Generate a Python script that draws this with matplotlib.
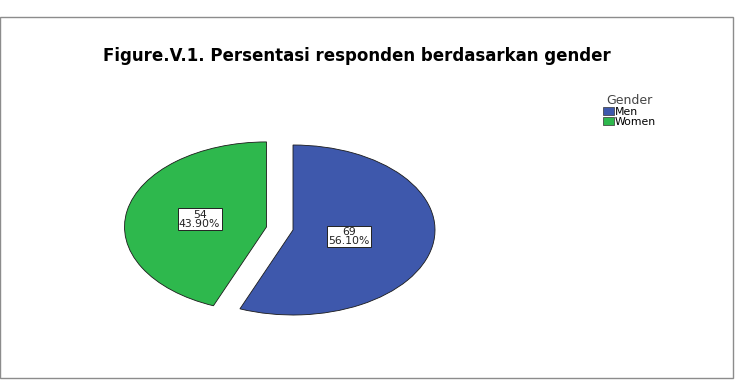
import matplotlib
matplotlib.use("Agg")
import matplotlib.pyplot as plt
from matplotlib.patches import Rectangle, Patch
import numpy as np

categories = ["Men", "Women"]
counts = [69, 54]
percents = [56.10, 43.90]
colors = ["#3E58AC", "#2EB84D"]
explode = [0.0, 0.19]
title = "Figure.V.1. Persentasi responden berdasarkan gender"

plt.rcParams['font.family'] = ['DejaVu Sans']

fig = plt.figure(figsize=(7.35, 3.92), dpi=100)

# outer frame
fig.patches.append(Rectangle((0.0, (392 - 378) / 392), 733 / 735, (378 - 17) / 392,
                             transform=fig.transFigure, fill=False,
                             edgecolor="#8c8c8c", linewidth=1.0))

fig.text(357 / 735, 1 - 56 / 392, title, ha="center", va="center",
         fontsize=12, fontweight="bold", color="#000000")

ax = fig.add_axes([151 / 735, (392 - 315) / 392, 284 / 735, 170 / 392])
ax.axis("off")

labels_txt = [f"{c}\n{p:.2f}%" for c, p in zip(counts, percents)]
wedges, _ = ax.pie(counts, colors=colors, explode=explode, startangle=90,
                   counterclock=False, radius=1.0, frame=False,
                   wedgeprops=dict(edgecolor="#1a1a1a", linewidth=0.6))
ax.set_xlim(-1, 1)
ax.set_ylim(-1, 1)
ax.set_aspect("auto")
for w, txt, d in zip(wedges, labels_txt, [0.40, 0.48]):
    w.set_clip_on(False)
    ang = np.deg2rad((w.theta1 + w.theta2) / 2)
    cx, cy = w.center
    ax.text(cx + d * np.cos(ang), cy + d * np.sin(ang), txt, ha="center", va="center",
            fontsize=7.8, linespacing=0.85, color="#222222",
            bbox=dict(boxstyle="square,pad=0.12", facecolor="white",
                      edgecolor="#222222", linewidth=0.7))

handles = [Patch(facecolor=c, edgecolor="#333333", linewidth=0.5) for c in colors]
leg = fig.legend(handles, categories, title="Gender", loc="upper left",
                 bbox_to_anchor=(595 / 735, 1 - 86 / 392), frameon=False,
                 fontsize=7.8, title_fontsize=9, handlelength=1.1, handleheight=0.8,
                 handletextpad=0.05, labelspacing=0.0, borderpad=0.2)
leg.get_title().set_color("#444444")

fig.savefig("out.png", dpi=100)
